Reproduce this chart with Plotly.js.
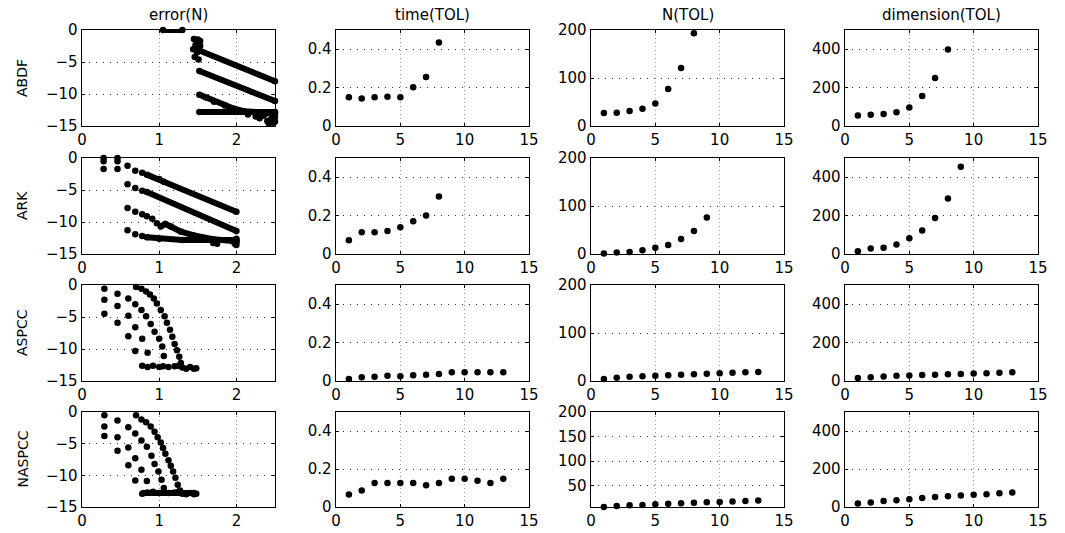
<!DOCTYPE html>
<html><head><meta charset="utf-8">
<script src="https://cdn.plot.ly/plotly-3.0.1.min.js"></script>
<style>body{margin:0;background:#fff}#chart{width:1065px;height:533px}</style>
</head><body><div id="chart"></div>
<script>
// ---------- labels ----------
const columnTitles = ["error(N)", "time(TOL)", "N(TOL)", "dimension(TOL)"];
const rowLabels = ["ABDF", "ARK", "ASPCC", "NASPCC"];

// ---------- TOL index ----------
const tol8 = [1, 2, 3, 4, 5, 6, 7, 8];
const tol9 = [1, 2, 3, 4, 5, 6, 7, 8, 9];
const tol13 = [1, 2, 3, 4, 5, 6, 7, 8, 9, 10, 11, 12, 13];

// ---------- time(TOL) ----------
const timeABDF = [0.15, 0.143, 0.15, 0.152, 0.15, 0.202, 0.255, 0.435];
const timeARK = [0.072, 0.113, 0.113, 0.12, 0.139, 0.17, 0.20, 0.30];
const timeASPCC = [0.01, 0.02, 0.022, 0.027, 0.025, 0.03, 0.033, 0.037, 0.045, 0.045, 0.046, 0.046, 0.046];
const timeNASPCC = [0.066, 0.087, 0.126, 0.126, 0.126, 0.126, 0.115, 0.126, 0.149, 0.149, 0.138, 0.126, 0.149];

// ---------- N(TOL) ----------
const nABDF = [27, 27.5, 31, 36, 47, 77, 121, 193];
const nARK = [1, 3, 4, 8, 13, 19, 31, 48, 76];
const nASPCC = [4, 7, 9, 10, 11, 12, 13, 14, 15, 16, 17, 18, 19];
const nNASPCC = [7, 9, 10.4, 11, 12.4, 13.7, 14.4, 15.7, 16.4, 17, 18.4, 19, 20.4];

// ---------- dimension(TOL) ----------
const dimABDF = [55, 58, 62, 71, 96, 156, 250, 398];
const dimARK = [14, 29, 32, 50, 82, 123, 188, 289, 455];
const dimASPCC = [15, 20, 24, 27, 29, 31, 33, 35, 37, 39, 41, 43, 45];
const dimNASPCC = [19, 24, 31, 36, 41, 48, 53, 57, 60, 64, 67, 72, 76];

// ---------- error(N): isolated points ----------
const errABDF_dotX = [1.45, 1.48, 1.50, 1.52, 1.47, 1.50, 1.53, 1.49, 1.46, 1.51, 1.44, 1.53];
const errABDF_dotY = [-1.4, -1.8, -1.5, -2.0, -2.4, -2.8, -2.5, -3.5, -4.2, -4.6, -3.0, -1.7];
const errABDF_noiseX = [2.15, 2.25, 2.30, 2.35, 2.40, 2.42, 2.45, 2.48, 2.50, 2.50, 2.38, 2.47];
const errABDF_noiseY = [-13.2, -13.5, -13.8, -13.4, -14.2, -14.6, -13.9, -14.5, -13.6, -14.3, -13.1, -13.0];

const errARK_dotX = [0.28, 0.28, 0.28, 0.46, 0.46, 0.46, 0.59, 0.69, 0.78, 0.59, 0.69, 0.78, 0.59, 0.69, 0.78, 0.84, 0.91, 0.97, 0.59, 0.69, 0.78, 1.70, 1.75, 1.95, 1.98, 2.0, 2.0, 2.0];
const errARK_dotY = [0, -0.5, -1.7, 0, -0.5, -1.7, -1.2, -2.0, -2.3, -4.1, -4.7, -5.1, -7.8, -8.4, -8.8, -9.1, -9.5, -10.2, -11.3, -11.9, -12.2, -13.3, -13.4, -13.0, -13.4, -13.6, -13.2, -12.6];

const errASPCC_dotX = [0.29, 0.46, 0.60, 0.69, 0.77, 0.83, 0.89, 0.94, 1.00, 1.04, 1.06,
                       0.29, 0.46, 0.60, 0.69, 0.78, 0.85,
                       0.29, 0.46, 0.60, 0.69,
                       0.70, 0.77, 0.83, 0.88, 0.93, 0.97, 1.02, 1.07, 1.10, 1.14, 1.17, 1.20, 1.23, 1.26, 1.28,
                       0.78, 0.85, 0.92, 1.00, 1.05, 1.12, 1.20, 1.25, 1.30, 1.35, 1.40, 1.45, 1.48];
const errASPCC_dotY = [-0.6, -1.35, -2.1, -3.0, -3.9, -4.9, -6.1, -7.3, -8.4, -9.6, -11.1,
                       -2.3, -3.3, -4.8, -6.6, -8.4, -10.6,
                       -4.5, -5.9, -8.0, -10.3,
                       -0.3, -0.6, -1.0, -1.5, -2.1, -2.9, -3.9, -4.9, -5.9, -7.0, -8.1, -9.2, -10.2, -11.2, -12.2,
                       -12.6, -12.8, -12.6, -12.8, -12.7, -12.8, -12.7, -12.6, -12.9, -13.1, -12.8, -13.1, -13.0];

const errNASPCC_dotX = [0.29, 0.46, 0.60, 0.69, 0.77, 0.84, 0.90, 0.94, 0.99, 1.03, 1.06,
                        0.29, 0.46, 0.60, 0.69, 0.77, 0.84,
                        0.29, 0.46, 0.60, 0.69,
                        0.70, 0.77, 0.83, 0.89, 0.94, 0.98, 1.02, 1.05, 1.08, 1.12, 1.15, 1.18, 1.21, 1.24, 1.27,
                        0.78, 0.85, 0.92, 1.00, 1.05, 1.12, 1.20, 1.25, 1.30, 1.35, 1.40, 1.45, 1.48];
const errNASPCC_dotY = [-0.5, -1.35, -2.4, -3.4, -4.5, -5.5, -6.9, -8.2, -9.4, -10.7, -12.0,
                        -2.3, -4.0, -5.6, -7.3, -9.1, -10.9,
                        -3.8, -6.1, -8.4, -10.8,
                        -0.5, -1.2, -1.6, -2.3, -3.1, -4.0, -4.8, -5.7, -6.6, -7.6, -8.5, -9.4, -10.4, -11.5, -12.4,
                        -12.9, -12.7, -12.6, -12.8, -12.7, -12.8, -12.7, -12.6, -12.9, -13.0, -12.8, -13.0, -12.9];

// ---------- error(N): dense runs of points (drawn as thick polylines) ----------
const errABDF_runs = [
  {x: [1.05, 1.30], y: [0, 0]},
  {x: [1.52, 2.50], y: [-3.2, -8.0]},
  {x: [1.52, 2.50], y: [-6.4, -11.1]},
  {x: [1.52, 1.60, 1.71, 1.85, 1.97, 2.10, 2.25, 2.50], y: [-10.1, -10.5, -11.2, -11.8, -12.3, -12.7, -12.9, -13.0]},
  {x: [1.52, 2.50], y: [-12.8, -12.8]}
];
const errARK_runs = [
  {x: [0.84, 1.00, 1.06, 2.00], y: [-2.6, -3.3, -3.7, -8.4]},
  {x: [0.84, 2.00], y: [-5.3, -11.4]},
  {x: [1.02, 1.08, 1.15, 1.28, 1.45, 1.70, 2.00], y: [-10.7, -10.3, -10.7, -11.5, -12.1, -12.7, -13.0]},
  {x: [0.84, 1.00, 1.30, 2.00], y: [-12.4, -12.6, -12.8, -12.8]}
];
const errASPCC_runs = [];
const errNASPCC_runs = [
  {x: [0.80, 1.45], y: [-12.8, -12.8]}
];

// ---------- geometry ----------
const W = 1065, H = 533;
const colPx = [[82, 275], [336, 529], [591, 784], [845, 1038]];
const rowPx = [[30, 126], [158, 254], [285, 381], [412, 507]];

const font = {family: "DejaVu Sans, Arial, sans-serif", size: 15, color: "#000"};
const titleFont = {family: "DejaVu Sans, Arial, sans-serif", size: 15, color: "#000"};
const rowFont = {family: "DejaVu Sans, Arial, sans-serif", size: 14, color: "#000"};
const traces = [];
const layout = {
  width: W, height: H, margin: {l: 0, r: 0, t: 0, b: 0},
  paper_bgcolor: "#fff", plot_bgcolor: "#fff", showlegend: false,
  font: font, annotations: []
};

const errDots = [[errABDF_dotX, errABDF_dotY], [errARK_dotX, errARK_dotY], [errASPCC_dotX, errASPCC_dotY], [errNASPCC_dotX, errNASPCC_dotY]];
const errNoise = [[errABDF_noiseX, errABDF_noiseY], null, null, null];
const errRuns = [errABDF_runs, errARK_runs, errASPCC_runs, errNASPCC_runs];
const timeData = [[tol8, timeABDF], [tol8, timeARK], [tol13, timeASPCC], [tol13, timeNASPCC]];
const nData = [[tol8, nABDF], [tol9, nARK], [tol13, nASPCC], [tol13, nNASPCC]];
const dimData = [[tol8, dimABDF], [tol9, dimARK], [tol13, dimASPCC], [tol13, dimNASPCC]];

const mk = {color: "#000", size: 6.5};

function axisBase(dom, anchor) {
  return {
    domain: dom, anchor: anchor, showline: true, linecolor: "#000", linewidth: 1.4,
    mirror: "ticks", ticks: "inside", ticklen: 3, tickcolor: "#000",
    showgrid: true, gridwidth: 1, zeroline: false, fixedrange: true,
    tickfont: font
  };
}

for (let r = 0; r < 4; r++) {
  for (let c = 0; c < 4; c++) {
    const i = r * 4 + c + 1;
    const xa = "x" + (i === 1 ? "" : i), ya = "y" + (i === 1 ? "" : i);
    const xk = "xaxis" + (i === 1 ? "" : i), yk = "yaxis" + (i === 1 ? "" : i);
    const xd = [colPx[c][0] / W, colPx[c][1] / W];
    const yd = [1 - rowPx[r][1] / H, 1 - rowPx[r][0] / H];
    const xax = axisBase(xd, ya), yax = axisBase(yd, xa);
    xax.gridcolor = "#a0a0a0"; xax.griddash = "1px,3px";
    yax.gridcolor = "#333"; yax.griddash = "1px,6px";
    if (c === 0) {
      xax.range = [0, 2.5]; xax.tickvals = [0, 1, 2];
      yax.range = [-15, 0]; yax.tickvals = [-15, -10, -5, 0];
      errRuns[r].forEach(run => traces.push({x: run.x, y: run.y, xaxis: xa, yaxis: ya, type: "scatter",
        mode: "lines+markers", line: {color: "#000", width: 6}, marker: mk, cliponaxis: false}));
      traces.push({x: errDots[r][0], y: errDots[r][1], xaxis: xa, yaxis: ya, type: "scatter",
        mode: "markers", marker: mk, cliponaxis: false});
      if (errNoise[r]) traces.push({x: errNoise[r][0], y: errNoise[r][1], xaxis: xa, yaxis: ya, type: "scatter",
        mode: "markers", marker: mk, cliponaxis: false});
    } else {
      xax.range = [0, 15]; xax.tickvals = [0, 5, 10, 15];
      let d;
      if (c === 1) { d = timeData[r]; yax.range = [0, 0.5]; yax.tickvals = [0, 0.2, 0.4]; }
      if (c === 2) {
        d = nData[r];
        if (r === 3) { yax.range = [7, 200]; yax.tickvals = [50, 100, 150, 200]; }
        else { yax.range = [0, 200]; yax.tickvals = [0, 100, 200]; }
      }
      if (c === 3) { d = dimData[r]; yax.range = [0, 500]; yax.tickvals = [0, 200, 400]; }
      traces.push({x: d[0], y: d[1], xaxis: xa, yaxis: ya, type: "scatter", mode: "markers",
        marker: mk, cliponaxis: false});
    }
    layout[xk] = xax; layout[yk] = yax;
    if (r === 0) layout.annotations.push({text: columnTitles[c], xref: "paper", yref: "paper",
      x: (xd[0] + xd[1]) / 2, y: 1 - 15 / H, xanchor: "center", yanchor: "middle", showarrow: false, font: titleFont});
  }
  layout.annotations.push({text: rowLabels[r], xref: "paper", yref: "paper", textangle: -90,
    x: 22 / W, y: 1 - ((rowPx[r][0] + rowPx[r][1]) / 2) / H, xanchor: "center", yanchor: "middle",
    showarrow: false, font: rowFont});
}

Plotly.newPlot("chart", traces, layout, {displayModeBar: false, staticPlot: true});
</script></body></html>
